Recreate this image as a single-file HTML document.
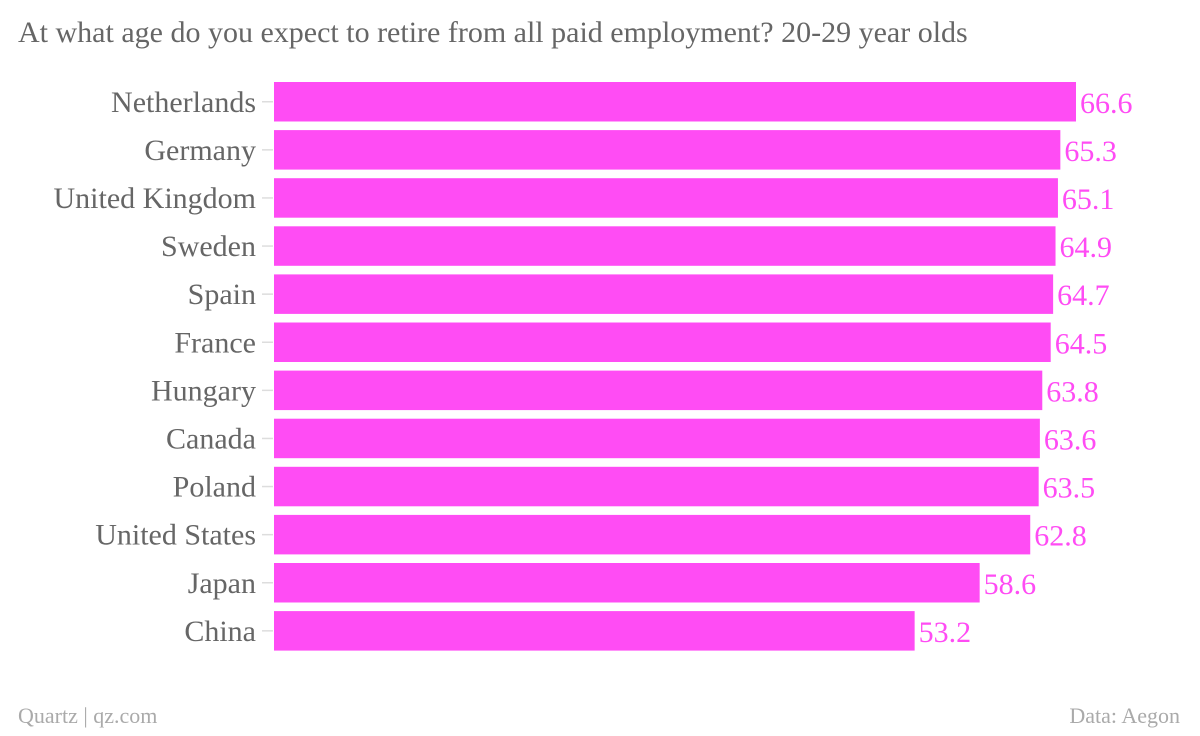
<!DOCTYPE html>
<html><head><meta charset="utf-8"><style>
body{margin:0;background:#fff;width:1200px;height:731px;overflow:hidden;font-family:"Liberation Serif",serif}
svg text{font-family:"Liberation Serif",serif}
</style></head><body>
<svg width="1200" height="731">
<text x="18" y="42" font-size="30" fill="#666">At what age do you expect to retire from all paid employment? 20-29 year olds</text>
<g id="bars"></g>
<text x="18" y="723" font-size="22" fill="#aaa">Quartz | qz.com</text>
<text x="1180" y="723" font-size="22" fill="#aaa" text-anchor="end">Data: Aegon</text>
</svg>
<script>
const categories=["Netherlands","Germany","United Kingdom","Sweden","Spain","France","Hungary","Canada","Poland","United States","Japan","China"];
const values=[66.6,65.3,65.1,64.9,64.7,64.5,63.8,63.6,63.5,62.8,58.6,53.2];
const x0=274,scale=802/66.6,top0=82,pitch=48.1,bh=39.5;
const xs=v=>x0+v*scale;
const ys=i=>top0+i*pitch;
const g=document.getElementById('bars');
const NS='http://www.w3.org/2000/svg';
categories.forEach((c,i)=>{
  const y=ys(i),v=values[i];
  const t=document.createElementNS(NS,'line');
  t.setAttribute('x1',262);t.setAttribute('x2',273);t.setAttribute('y1',y+bh/2);t.setAttribute('y2',y+bh/2);
  t.setAttribute('stroke','#ddd');t.setAttribute('stroke-width','1.5');
  
  
  g.appendChild(t);
  const r=document.createElementNS(NS,'rect');
  r.setAttribute('x',x0);r.setAttribute('y',y);r.setAttribute('width',xs(v)-x0);r.setAttribute('height',bh);r.setAttribute('fill','#ff4cf4');
  
  
  g.appendChild(r);
  const l=document.createElementNS(NS,'text');
  l.setAttribute('x',256);l.setAttribute('y',y+bh/2+10);l.setAttribute('text-anchor','end');l.setAttribute('font-size','30');l.setAttribute('fill','#666');
  l.textContent=c;
  
  
  g.appendChild(l);
  const vl=document.createElementNS(NS,'text');
  vl.setAttribute('x',xs(v)+4);vl.setAttribute('y',y+bh/2+11);vl.setAttribute('font-size','30');vl.setAttribute('fill','#ff4cf4');
  vl.textContent=v.toFixed(1);
  
  
  g.appendChild(vl);
});
</script>
</body></html>
